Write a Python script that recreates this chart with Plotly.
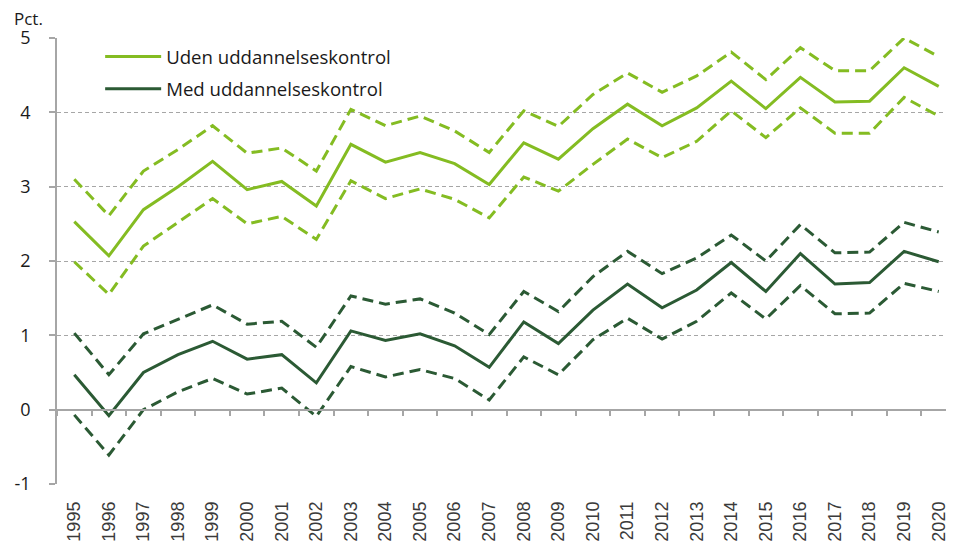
import plotly.graph_objects as go

years = [str(y) for y in range(1995, 2021)]

uden = [2.53, 2.07, 2.69, 3.00, 3.34, 2.96, 3.07, 2.74, 3.57, 3.33, 3.46, 3.31, 3.03,
        3.59, 3.37, 3.78, 4.11, 3.82, 4.06, 4.42, 4.05, 4.47, 4.14, 4.15, 4.60, 4.35]
uden_hi = [3.10, 2.61, 3.21, 3.50, 3.82, 3.45, 3.52, 3.21, 4.04, 3.82, 3.95, 3.75, 3.46,
           4.02, 3.81, 4.24, 4.53, 4.27, 4.49, 4.81, 4.44, 4.87, 4.56, 4.56, 5.00, 4.75]
uden_lo = [1.99, 1.55, 2.20, 2.52, 2.84, 2.50, 2.60, 2.29, 3.08, 2.84, 2.97, 2.83, 2.58,
           3.13, 2.94, 3.30, 3.64, 3.39, 3.61, 4.02, 3.66, 4.06, 3.72, 3.72, 4.20, 3.95]
med = [0.47, -0.08, 0.50, 0.74, 0.92, 0.68, 0.74, 0.36, 1.06, 0.93, 1.02, 0.86, 0.57,
       1.18, 0.89, 1.34, 1.69, 1.37, 1.61, 1.98, 1.59, 2.10, 1.69, 1.71, 2.13, 1.99]
med_hi = [1.03, 0.47, 1.02, 1.22, 1.41, 1.15, 1.19, 0.84, 1.53, 1.42, 1.49, 1.30, 1.01,
          1.59, 1.32, 1.79, 2.13, 1.83, 2.04, 2.35, 2.00, 2.49, 2.11, 2.12, 2.52, 2.39]
med_lo = [-0.07, -0.61, 0.00, 0.24, 0.42, 0.21, 0.29, -0.09, 0.58, 0.44, 0.54, 0.42, 0.13,
          0.71, 0.47, 0.94, 1.23, 0.95, 1.19, 1.57, 1.22, 1.67, 1.29, 1.30, 1.70, 1.59]

y_ticks = [-1, 0, 1, 2, 3, 4, 5]
y_ticktext = ["-1", "0", "1", "2", "3", "4", "5"]

LIGHT = "#84bc22"
DARK = "#2b5a34"
GRID = "#a6a6a6"
DASH = "11px,6px"

fig = go.Figure()

fig.add_trace(go.Scatter(x=years, y=uden, mode="lines", name="Uden uddannelseskontrol",
                         line=dict(color=LIGHT, width=3), legendgroup="a"))
fig.add_trace(go.Scatter(x=years, y=med, mode="lines", name="Med uddannelseskontrol",
                         line=dict(color=DARK, width=3), legendgroup="b"))
for ys, c in [(uden_hi, LIGHT), (uden_lo, LIGHT), (med_hi, DARK), (med_lo, DARK)]:
    fig.add_trace(go.Scatter(x=years, y=ys, mode="lines", showlegend=False,
                             line=dict(color=c, width=3, dash=DASH)))
# invisible trace to carry the zero-positioned tick axis
fig.add_trace(go.Scatter(x=years, y=med, xaxis="x2", mode="lines", showlegend=False,
                         hoverinfo="skip", line=dict(color="rgba(0,0,0,0)", width=0)))

fig.update_layout(
    width=954, height=543,
    margin=dict(l=49, r=6, t=30, b=67, autoexpand=False),
    paper_bgcolor="white", plot_bgcolor="white",
    font=dict(family="Open Sans", size=18, color="#1a1a1a"),
    showlegend=True,
    legend=dict(x=0.048, y=1.0, xanchor="left", yanchor="top",
                bgcolor="rgba(0,0,0,0)", font=dict(size=18.6, family="Open Sans"),
                itemwidth=56, tracegroupgap=5),
    xaxis=dict(type="category", range=[-0.5, 25.5], showgrid=False, showline=False,
               ticks="", tickangle=-90, ticklabelstandoff=13, automargin=False,
               tickfont=dict(family="Liberation Sans", size=18, color="#3a3a3a")),
    xaxis2=dict(type="category", overlaying="x", anchor="free", position=1/6,
                range=[-0.5, 25.5], showgrid=False, showline=True, linecolor=GRID,
                linewidth=1.5, ticks="outside", tickson="boundaries", ticklen=6,
                tickcolor=GRID, tickwidth=1.5, showticklabels=False, side="bottom",
                automargin=False),
    yaxis=dict(range=[-1, 5], tickvals=y_ticks, ticktext=y_ticktext, showgrid=True,
               gridcolor=GRID, griddash="4px,3px", gridwidth=1, zeroline=False,
               showline=True, automargin=False,
               linecolor=GRID, linewidth=1.5, ticks="outside", ticklen=6,
               tickcolor=GRID, tickwidth=1.5, ticklabelstandoff=15,
               tickfont=dict(family="Open Sans", size=18, color="#1a1a1a")),
    annotations=[dict(text="Pct.", xref="paper", yref="paper", x=0, y=1,
                      xanchor="right", yanchor="bottom", xshift=-12, yshift=6,
                      showarrow=False, font=dict(family="Open Sans", size=17, color="#1a1a1a"))],
)

fig.write_html("out.html")
